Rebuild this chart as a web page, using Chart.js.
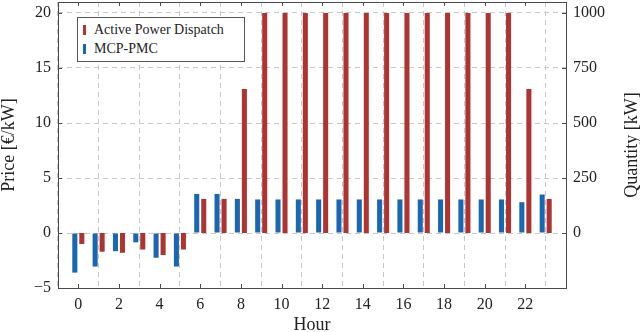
<!DOCTYPE html>
<html>
<head>
<meta charset="utf-8">
<script src="https://cdn.jsdelivr.net/npm/chart.js@4"></script>
<style>
  html, body { margin: 0; padding: 0; background: #fff; }
  #wrap { position: relative; width: 640px; height: 332px; }
  #legend {
    position: absolute; left: 77px; top: 17px; width: 166px; height: 43px;
    border: 1px solid #555; background: #fff;
    font: 14px "Liberation Serif", serif; color: #222;
  }
  .item { position: absolute; left: 5px; height: 18px; line-height: 18px; white-space: nowrap; }
  .sw { display: inline-block; width: 3px; height: 10px; margin-right: 8px; vertical-align: -1px; }
</style>
</head>
<body>
<div id="wrap">
  <canvas id="c" width="640" height="332"></canvas>
  <div id="legend"></div>
</div>
<script>
// ── Data ──────────────────────────────────────────────────────
const hours = [0,1,2,3,4,5,6,7,8,9,10,11,12,13,14,15,16,17,18,19,20,21,22,23];
// MCP-PMC, €/kW (left axis)
const price = [-3.6,-3.05,-1.65,-0.85,-2.25,-3.05,3.55,3.55,3.1,3.05,3.05,3.05,
               3.05,3.05,3.05,3.05,3.05,3.05,3.05,3.05,3.05,3.05,2.8,3.5];
// Active power dispatch, kW (right axis)
const dispatch = [-50,-85,-90,-75,-100,-75,155,155,655,1000,1000,1000,
                  1000,1000,1000,1000,1000,1000,1000,1000,1000,1000,655,155];
const hourTicks  = [0,2,4,6,8,10,12,14,16,18,20,22];
const priceTicks = [-5,0,5,10,15,20];
const qtyTicks   = [0,250,500,750,1000];

const RED  = "#ad3431";
const BLUE = "#1767b3";
const SERIF = "'Liberation Serif', serif";
const INK = "#222";

// ── Frame, inward ticks and right title ──────────────────────
const frame = {
  id: "frame",
  afterDatasetsDraw(chart) {
    const { ctx, chartArea: a, scales } = chart;
    ctx.save();
    ctx.strokeStyle = "#4a4a4a";
    ctx.lineWidth = 1;
    ctx.setLineDash([]);
    ctx.strokeRect(Math.round(a.left) + 0.5, Math.round(a.top) + 0.5,
                   Math.round(a.right - a.left), Math.round(a.bottom - a.top));
    ctx.beginPath();
    hourTicks.forEach(v => {
      const x = Math.round(scales.x.getPixelForValue(v)) + 0.5;
      ctx.moveTo(x, a.bottom); ctx.lineTo(x, a.bottom - 4);
      ctx.moveTo(x, a.top);    ctx.lineTo(x, a.top + 4);
    });
    priceTicks.forEach(v => {
      const y = Math.round(scales.y.getPixelForValue(v)) + 0.5;
      ctx.moveTo(a.left, y); ctx.lineTo(a.left + 4, y);
    });
    qtyTicks.forEach(v => {
      const y = Math.round(scales.y2.getPixelForValue(v)) + 0.5;
      ctx.moveTo(a.right, y); ctx.lineTo(a.right - 4, y);
    });
    ctx.stroke();
    ctx.restore();
  },
  afterDraw(chart) {
    const { ctx, chartArea: a } = chart;
    ctx.save();
    ctx.translate(632, (a.top + a.bottom) / 2);
    ctx.rotate(-Math.PI / 2);
    ctx.fillStyle = INK;
    ctx.font = "18px " + SERIF;
    ctx.textAlign = "center";
    ctx.textBaseline = "middle";
    ctx.fillText("Quantity [kW]", 0, 0);
    ctx.restore();
  }
};

const minus = v => v < 0 ? "\u2212" + Math.abs(v) : String(v);
const noPad = s => { s.paddingTop = 0; s.paddingBottom = 0; s.paddingLeft = 0; s.paddingRight = 0; };

const chart = new Chart(document.getElementById("c"), {
  type: "bar",
  data: {
    datasets: [
      { label: "MCP-PMC", data: hours.map((h, i) => ({ x: h, y: price[i] })),
        yAxisID: "y", backgroundColor: BLUE, borderWidth: 0,
        categoryPercentage: 0.69, barPercentage: 0.72 },
      { label: "Active Power Dispatch", data: hours.map((h, i) => ({ x: h, y: dispatch[i] })),
        yAxisID: "y2", backgroundColor: RED, borderWidth: 0,
        categoryPercentage: 0.69, barPercentage: 0.72 }
    ]
  },
  options: {
    responsive: false, animation: false,
    layout: { padding: { top: 2, left: 0, right: 0, bottom: 0 } },
    plugins: { legend: { display: false }, tooltip: { enabled: false } },
    scales: {
      x: {
        type: "linear", min: -1, max: 24, offset: false,
        afterBuildTicks: s => { s.ticks = hourTicks.map(v => ({ value: v })); },
        afterFit: s => { s.height = 44; noPad(s); },
        ticks: { color: INK, font: { family: SERIF, size: 16 }, padding: 7, maxRotation: 0, autoSkip: false },
        grid: { color: "#c8c8c8", drawTicks: false },
        border: { display: false, dash: [5, 4] },
        title: { display: true, text: "Hour", color: INK,
                 font: { family: SERIF, size: 18, lineHeight: 1 }, padding: { top: 0, bottom: -2 } }
      },
      y: {
        position: "left", min: -5, max: 21,
        afterBuildTicks: s => { s.ticks = priceTicks.map(v => ({ value: v })); },
        afterFit: s => { s.width = 58; noPad(s); },
        ticks: { color: INK, font: { family: SERIF, size: 16 }, padding: 7, callback: minus },
        grid: { color: "#c8c8c8", drawTicks: false },
        border: { display: false, dash: [5, 4] },
        title: { display: true, text: "Price [€/kW]", color: INK,
                 font: { family: SERIF, size: 18, lineHeight: 1 }, padding: 0 }
      },
      y2: {
        position: "right", min: -250, max: 1050,
        afterBuildTicks: s => { s.ticks = qtyTicks.map(v => ({ value: v })); },
        afterFit: s => { s.width = 74; noPad(s); },
        ticks: { color: INK, font: { family: SERIF, size: 16 }, padding: 7, callback: minus },
        grid: { display: false, drawTicks: false },
        border: { display: false }
      }
    }
  },
  plugins: [frame]
});

// ── HTML legend (inside the plot, top-left) ──────────────────
const legend = document.getElementById("legend");
[...chart.data.datasets].reverse().forEach((ds, i) => {
  const el = document.createElement("div");
  el.className = "item";
  el.style.top = (3 + i * 19) + "px";
  el.innerHTML = `<span class="sw" style="background:${ds.backgroundColor}"></span>${ds.label}`;
  legend.appendChild(el);
});
</script>
</body>
</html>
